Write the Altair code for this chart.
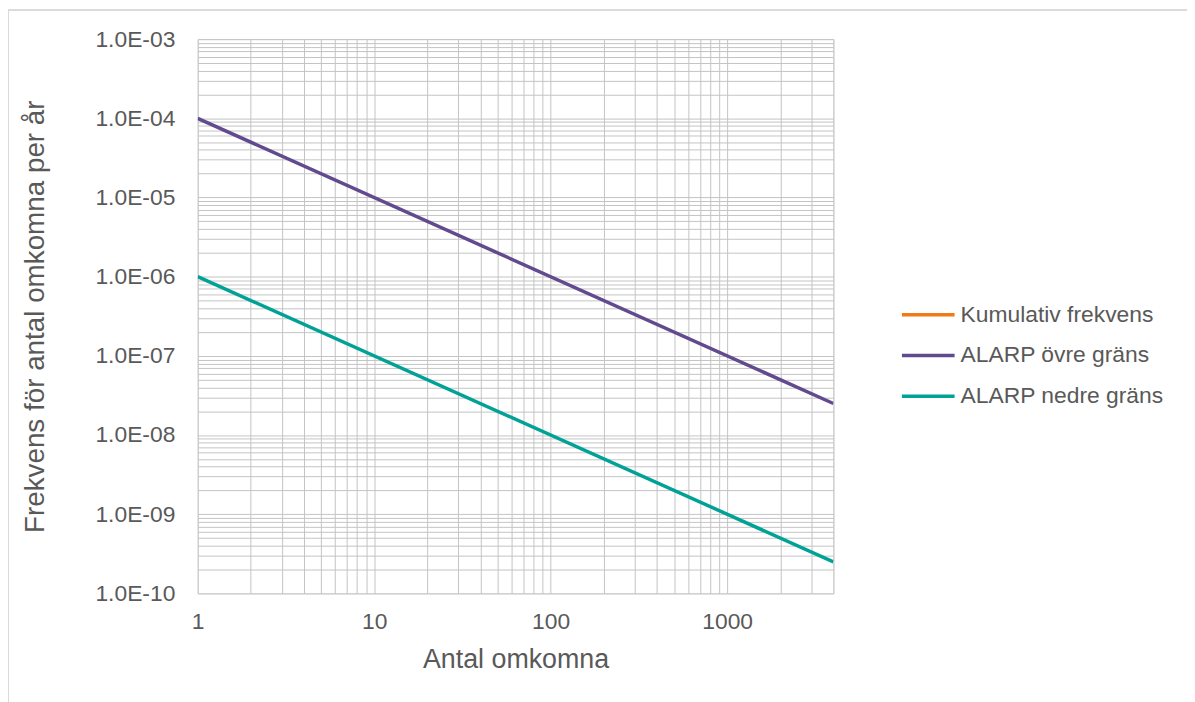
import altair as alt
import pandas as pd

# Data
series_names = ["Kumulativ frekvens", "ALARP övre gräns", "ALARP nedre gräns"]
series_colors = ["#F07B14", "#614A8D", "#00A296"]
x_points = [1, 4000]
upper_values = [1.0e-4, 2.5e-8]
lower_values = [1.0e-6, 2.5e-10]

x_grid = [m * 10 ** e for e in range(0, 3) for m in range(1, 10)] + [1000, 2000, 3000, 4000]
y_grid = [m * 10.0 ** e for e in range(-10, -3) for m in range(1, 10)] + [1e-3]

rows = []
for x, v in zip(x_points, upper_values):
    rows.append({"x": x, "y": v, "serie": series_names[1]})
for x, v in zip(x_points, lower_values):
    rows.append({"x": x, "y": v, "serie": series_names[2]})
df = pd.DataFrame(rows)

FONT = "Liberation Sans"
TXT = "#595959"
GRID = "#C4C4C4"

is_pow = "abs(log(datum.value)/LN10 - round(log(datum.value)/LN10)) < 1e-6"
y_label = ("(" + is_pow + ") ? ('1.0E-' + (round(-log(datum.value)/LN10) < 10 ? '0' : '') + "
           "round(-log(datum.value)/LN10)) : ''")
x_label = "(" + is_pow + " && datum.value < 2000) ? format(datum.value, 'd') : ''"

lines = alt.Chart(df).mark_line(strokeWidth=3.5, clip=True).encode(
    x=alt.X("x:Q",
            scale=alt.Scale(type="log", domain=[1, 4000], nice=False),
            axis=alt.Axis(values=x_grid, labelExpr=x_label, title="Antal omkomna",
                          grid=True, gridColor=GRID, gridWidth=1, ticks=False, domain=False,
                          labelFont=FONT, labelFontSize=23, labelColor=TXT, labelPadding=17,
                          labelOverlap=False, labelFlush=False,
                          titleFont=FONT, titleFontSize=27, titleFontWeight="normal",
                          titleColor=TXT, titlePadding=14)),
    y=alt.Y("y:Q",
            scale=alt.Scale(type="log", domain=[1e-10, 1e-3], nice=False),
            axis=alt.Axis(values=y_grid, labelExpr=y_label,
                          title="Frekvens för antal omkomna per år",
                          grid=True, gridColor=GRID, gridWidth=1, ticks=False, domain=False,
                          labelFont=FONT, labelFontSize=23, labelColor=TXT, labelPadding=23,
                          labelOverlap=False, labelFlush=False,
                          titleFont=FONT, titleFontSize=28, titleFontWeight="normal",
                          titleColor=TXT, titlePadding=46)),
    color=alt.Color("serie:N",
                    scale=alt.Scale(domain=series_names, range=series_colors),
                    legend=alt.Legend(title=None, orient="none", legendX=707, legendY=249,
                                      symbolType="stroke", symbolSize=2809,
                                      symbolStrokeWidth=3.5, labelFont=FONT,
                                      labelFontSize=23, labelColor=TXT, labelOffset=4,
                                      labelLimit=400, rowPadding=-11, padding=0)),
)

border_top = alt.Chart(df).mark_rule(color="#D9D9D9", strokeWidth=1.5, clip=False).encode(
    x=alt.value(-191), x2=alt.value(1000), y=alt.value(-29))
border_left = alt.Chart(df).mark_rule(color="#D9D9D9", strokeWidth=1.5, clip=False).encode(
    x=alt.value(-191), y=alt.value(-29), y2=alt.value(700))

chart = alt.layer(border_top, border_left, lines).properties(
    width=640, height=558,
    autosize=alt.AutoSizeParams(type="none"),
    padding={"left": 191, "top": 29, "right": 356, "bottom": 107},
).configure_view(stroke=GRID, strokeWidth=1).configure(background="white")

chart.save("out.html", embed_options={"renderer": "svg", "actions": False})
